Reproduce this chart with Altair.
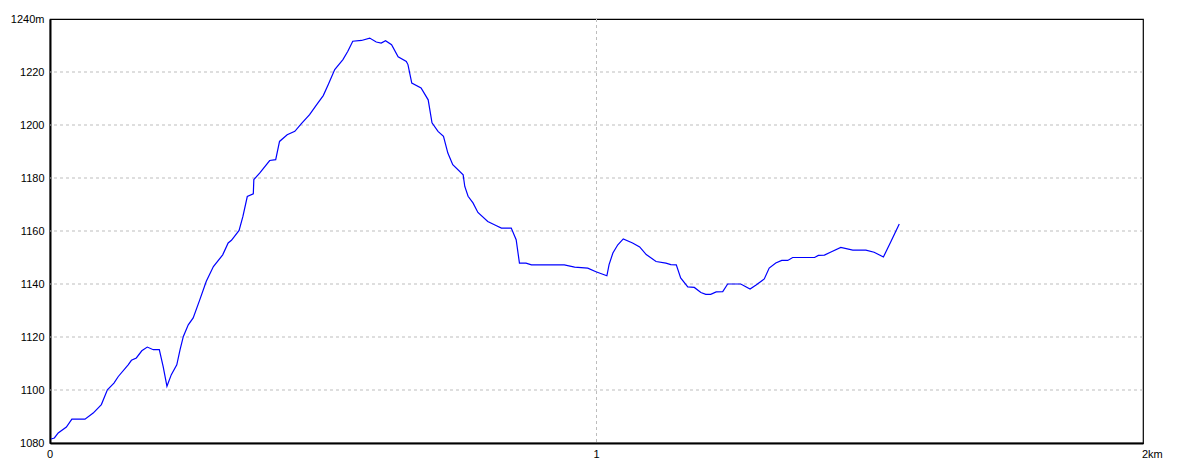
import altair as alt
import pandas as pd

dist_km = [0.002, 0.008, 0.015, 0.030, 0.040, 0.064, 0.079, 0.094, 0.105, 0.117, 0.125, 0.143,
           0.149, 0.158, 0.168, 0.178, 0.189, 0.200, 0.207, 0.214, 0.222, 0.232, 0.238, 0.244,
           0.253, 0.262, 0.274, 0.286, 0.299, 0.316, 0.326, 0.332, 0.346, 0.353, 0.361, 0.372,
           0.373, 0.384, 0.402, 0.413, 0.420, 0.434, 0.448, 0.460, 0.475, 0.488, 0.500, 0.509,
           0.521, 0.536, 0.545, 0.554, 0.570, 0.585, 0.597, 0.606, 0.614, 0.625, 0.637, 0.652,
           0.655, 0.662, 0.679, 0.692, 0.699, 0.710, 0.720, 0.728, 0.737, 0.756, 0.759, 0.765,
           0.774, 0.783, 0.801, 0.817, 0.826, 0.844, 0.853, 0.859, 0.871, 0.881, 0.941, 0.960,
           0.984, 0.999, 1.019, 1.023, 1.030, 1.039, 1.049, 1.066, 1.079, 1.091, 1.109, 1.127,
           1.136, 1.146, 1.154, 1.167, 1.179, 1.191, 1.200, 1.209, 1.219, 1.231, 1.240, 1.264,
           1.281, 1.292, 1.307, 1.316, 1.328, 1.339, 1.350, 1.359, 1.399, 1.406, 1.417, 1.429,
           1.447, 1.469, 1.493, 1.508, 1.525, 1.539, 1.554]
elev_m = [1081.5, 1081.9, 1083.8, 1086.0, 1089.0, 1089.0, 1091.3, 1094.5, 1100.1, 1102.6, 1105.1, 1109.5,
          1111.2, 1112.1, 1114.8, 1116.2, 1115.2, 1115.2, 1108.9, 1101.4, 1105.8, 1109.5, 1115.2, 1120.2,
          1124.6, 1127.2, 1134.0, 1141.0, 1146.6, 1151.0, 1155.5, 1156.5, 1160.2, 1165.5, 1173.0, 1174.0,
          1179.4, 1181.9, 1186.6, 1186.9, 1193.8, 1196.3, 1197.6, 1200.5, 1203.9, 1207.7, 1211.1, 1215.2,
          1220.9, 1224.7, 1227.8, 1231.6, 1231.9, 1232.8, 1231.3, 1230.9, 1231.8, 1230.3, 1225.7, 1224.0,
          1222.8, 1215.8, 1214.0, 1209.5, 1200.8, 1197.6, 1195.7, 1189.4, 1185.0, 1181.2, 1176.8, 1173.1,
          1170.6, 1167.0, 1163.6, 1162.0, 1161.1, 1161.1, 1156.7, 1147.9, 1147.9, 1147.2, 1147.2, 1146.4,
          1146.0, 1144.6, 1143.1, 1147.3, 1151.7, 1154.8, 1157.0, 1155.5, 1154.0, 1151.1, 1148.5, 1147.9,
          1147.3, 1147.2, 1142.3, 1138.9, 1138.7, 1136.8, 1136.1, 1136.1, 1137.0, 1137.1, 1140.0, 1140.0,
          1138.1, 1139.6, 1141.9, 1146.0, 1147.9, 1148.9, 1148.9, 1150.0, 1150.0, 1150.8, 1150.9, 1152.1,
          1153.8, 1152.8, 1152.8, 1152.0, 1150.2, 1156.1, 1162.6]

x_ticks = [0, 1, 2]
x_tick_labels = ["0", "1", "2km"]
x_label_align = ["center", "center", "left"]
y_ticks = [1080, 1100, 1120, 1140, 1160, 1180, 1200, 1220, 1240]
x_grid = [1]
y_grid = [1100, 1120, 1140, 1160, 1180, 1200, 1220]

df = pd.DataFrame({"d": dist_km, "e": elev_m})

FONT = "Liberation Sans"
xscale = alt.Scale(domain=[0, 2], nice=False, zero=False)
yscale = alt.Scale(domain=[1080, 1240], nice=False, zero=False)

xaxis = alt.Axis(values=x_ticks, title=None, labels=False, grid=False,
                 ticks=False, domainColor="black", domainWidth=2)
yaxis = alt.Axis(values=y_ticks, title=None, format="d", grid=False,
                 labelExpr="datum.value == 1240 ? '1240m' : datum.label",
                 labelOverlap=False, labelFlush=False,
                 ticks=False, labelPadding=6, domainColor="black", domainWidth=2,
                 labelFont=FONT, labelFontSize=11, labelColor="black")

gy = alt.Chart(pd.DataFrame({"g": y_grid})).mark_rule(
    color="#bdbdbd", strokeWidth=1, strokeDash=[3, 3]
).encode(y=alt.Y("g:Q", scale=yscale, axis=yaxis))

gx = alt.Chart(pd.DataFrame({"g": x_grid})).mark_rule(
    color="#bdbdbd", strokeWidth=1, strokeDash=[3, 3]
).encode(x=alt.X("g:Q", scale=xscale, axis=xaxis))

line = alt.Chart(df).mark_line(color="#0000ff", strokeWidth=1.2, interpolate="linear").encode(
    x=alt.X("d:Q", scale=xscale, axis=xaxis),
    y=alt.Y("e:Q", scale=yscale, axis=yaxis),
)

lab_df = pd.DataFrame({"v": x_ticks, "t": x_tick_labels, "a": x_label_align})
xl_center = alt.Chart(lab_df[lab_df["a"] == "center"]).mark_text(
    font=FONT, fontSize=11, color="black", align="center", baseline="alphabetic"
).encode(x=alt.X("v:Q", scale=xscale, axis=xaxis), y=alt.value(439), text="t:N")
xl_left = alt.Chart(lab_df[lab_df["a"] == "left"]).mark_text(
    font=FONT, fontSize=11, color="black", align="left", baseline="alphabetic", dx=-1
).encode(x=alt.X("v:Q", scale=xscale, axis=xaxis), y=alt.value(439), text="t:N")

chart = alt.layer(gy, gx, line, xl_center, xl_left).properties(
    width=1093, height=424,
    autosize=alt.AutoSizeParams(type="none"),
    padding={"left": 42, "top": 11, "right": 33, "bottom": 22},
    background="white",
).configure_view(stroke="black", strokeWidth=1.2)

chart.save("out.html", embed_options={"renderer": "svg", "actions": False})
